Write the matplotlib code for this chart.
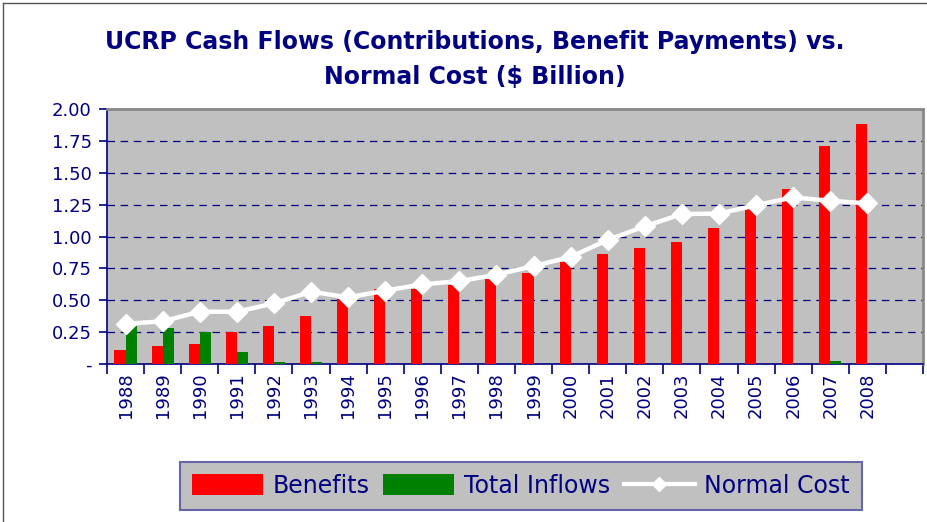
import matplotlib
matplotlib.use('Agg')
import matplotlib.pyplot as plt
import numpy as np
from matplotlib.lines import Line2D
from matplotlib.patches import Patch

years = [str(y) for y in range(1988, 2009)]
benefits = [0.11, 0.14, 0.16, 0.25, 0.30, 0.38, 0.51, 0.585, 0.59, 0.62, 0.667,
            0.714, 0.80, 0.865, 0.91, 0.957, 1.067, 1.22, 1.373, 1.71, 1.88]
total_inflows = [0.30, 0.28, 0.25, 0.095, 0.015, 0.015, 0, 0, 0, 0, 0,
                 0, 0, 0, 0, 0, 0, 0, 0, 0.025, 0]
normal_cost = [0.315, 0.335, 0.41, 0.41, 0.475, 0.567, 0.523, 0.575, 0.625, 0.65, 0.70,
               0.768, 0.84, 0.973, 1.08, 1.176, 1.18, 1.245, 1.307, 1.28, 1.26]
ytick_vals = [0, 0.25, 0.5, 0.75, 1.0, 1.25, 1.5, 1.75, 2.0]
ytick_labels = ['-', '0.25', '0.50', '0.75', '1.00', '1.25', '1.50', '1.75', '2.00']

NAVY = '#000080'
W, H = 928, 522
fig = plt.figure(figsize=(W / 100, H / 100), dpi=100)
fig.patch.set_facecolor('white')

ax = fig.add_axes([107 / W, 1 - 364 / H, 816 / W, 255 / H])
ax.set_facecolor('#C0C0C0')

x = np.arange(len(years))
bw = 0.3
ax.bar(x - bw / 2, benefits, width=bw, color='#FF0000', zorder=3)
ax.bar(x + bw / 2, total_inflows, width=bw, color='#008000', zorder=3)
ax.plot(x, normal_cost, color='white', lw=3.2, marker='D', markersize=10,
        markeredgecolor='white', markerfacecolor='white', zorder=4)

ax.set_xlim(-0.5, 21.5)
ax.set_ylim(0, 2.0)
ax.set_yticks(ytick_vals)
ax.set_yticklabels(ytick_labels)
for yv in ytick_vals[1:-1]:
    ax.axhline(yv, color=NAVY, lw=0.9, ls=(0, (6, 4.5)), zorder=1)

ax.set_xticks(x)
ax.set_xticklabels(years, rotation=90)
ax.set_xticks(np.arange(-0.5, 22, 1.0), minor=True)
ax.tick_params(axis='x', which='major', length=0, pad=6, labelsize=13, labelcolor=NAVY)
ax.tick_params(axis='x', which='minor', length=7, width=1.2, color=NAVY, direction='out')
ax.tick_params(axis='y', length=6, width=1.2, color=NAVY, labelsize=13, labelcolor=NAVY, pad=5)

for s in ['left', 'bottom']:
    ax.spines[s].set_color(NAVY)
    ax.spines[s].set_linewidth(1.2)
for s in ['top', 'right']:
    ax.spines[s].set_color('#888888')
    ax.spines[s].set_linewidth(2)

fig.text(0.5 * (107 + 843) / W, 1 - 42 / H,
         'UCRP Cash Flows (Contributions, Benefit Payments) vs.',
         ha='center', va='center', fontsize=17, fontweight='bold', color=NAVY)
fig.text(0.5 * (107 + 843) / W, 1 - 77 / H, 'Normal Cost ($ Billion)',
         ha='center', va='center', fontsize=17, fontweight='bold', color=NAVY)

handles = [Patch(facecolor='#FF0000', label='Benefits'),
           Patch(facecolor='#008000', label='Total Inflows'),
           Line2D([], [], color='white', lw=3, marker='D', markersize=7, label='Normal Cost')]
leg = fig.legend(handles=handles, loc='center', bbox_to_anchor=(521 / W, 1 - 486 / H),
                 ncol=3, frameon=True, fancybox=False, fontsize=17, handlelength=3.0,
                 handleheight=1.0, columnspacing=0.6, handletextpad=0.4,
                 borderpad=0.5, labelcolor=NAVY)
leg.get_frame().set_facecolor('#C0C0C0')
leg.get_frame().set_edgecolor('#6666AA')
leg.get_frame().set_linewidth(1.5)
leg.get_frame().set_alpha(1)

fig.add_artist(Line2D([3 / W, 3 / W], [0, 1 - 3 / H], transform=fig.transFigure, color='#555555', lw=1))
fig.add_artist(Line2D([3 / W, 1], [1 - 3 / H, 1 - 3 / H], transform=fig.transFigure, color='#555555', lw=1))

fig.savefig('out.png', dpi=100)
